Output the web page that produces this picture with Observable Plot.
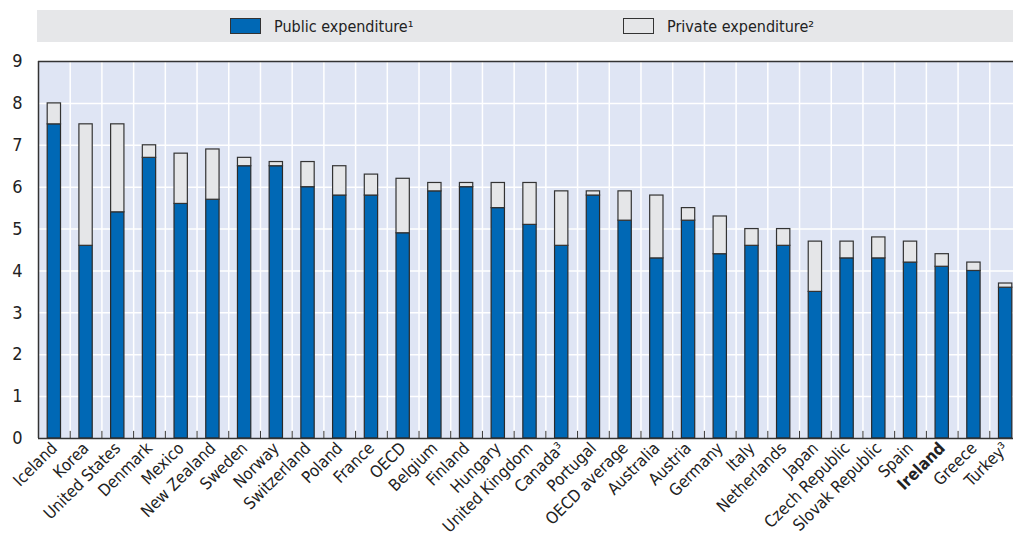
<!DOCTYPE html>
<html>
<head>
<meta charset="utf-8">
<script src="https://cdn.jsdelivr.net/npm/d3@7"></script>
<script src="https://cdn.jsdelivr.net/npm/@observablehq/plot@0.6"></script>
<style>
  html, body { margin: 0; padding: 0; background: #fff; overflow: hidden; width: 1013px; height: 544px; }
  body { font-family: "DejaVu Sans Condensed", "DejaVu Sans", sans-serif; font-stretch: condensed; }
  #legend { position: relative; height: 42px; }
  #legend .band { position: absolute; left: 37px; top: 10px; width: 990px; height: 32px; background: #e6e7e9; }
  #legend .item { position: absolute; top: 10px; height: 32px; display: flex; align-items: center; font-size: 16px; color: #222; }
  #legend .sw { width: 31px; height: 16px; border: 1px solid #333; margin-right: 13px; box-sizing: border-box; }
  #chart { width: 1013px; overflow: hidden; }
  #chart svg { display: block; overflow: hidden; max-width: none !important; }
  #chart svg text { font-stretch: condensed; }
</style>
</head>
<body>
<div id="legend"></div>
<div id="chart"></div>
<script>
const countries = ["Iceland","Korea","United States","Denmark","Mexico","New Zealand","Sweden","Norway","Switzerland","Poland","France","OECD","Belgium","Finland","Hungary","United Kingdom","Canada³","Portugal","OECD average","Australia","Austria","Germany","Italy","Netherlands","Japan","Czech Republic","Slovak Republic","Spain","Ireland","Greece","Turkey³"];
const publicExp  = [7.5,4.6,5.4,6.7,5.6,5.7,6.5,6.5,6.0,5.8,5.8,4.9,5.9,6.0,5.5,5.1,4.6,5.8,5.2,4.3,5.2,4.4,4.6,4.6,3.5,4.3,4.3,4.2,4.1,4.0,3.6];
const privateExp = [0.5,2.9,2.1,0.3,1.2,1.2,0.2,0.1,0.6,0.7,0.5,1.3,0.2,0.1,0.6,1.0,1.3,0.1,0.7,1.5,0.3,0.9,0.4,0.4,1.2,0.4,0.5,0.5,0.3,0.2,0.1];
const seriesNames = ["Public expenditure¹", "Private expenditure²"];
const seriesColors = ["#0068b5", "#e5e6e8"];
const yTicks = [0,1,2,3,4,5,6,7,8,9];
const highlight = "Ireland";

const rows = countries.map((c, i) => ({country: c, pub: publicExp[i], priv: privateExp[i]}));

// legend
const legend = document.getElementById("legend");
legend.innerHTML = `<div class="band"></div>
  <div class="item" style="left:230px"><div class="sw" style="background:${seriesColors[0]}"></div>${seriesNames[0]}</div>
  <div class="item" style="left:623px"><div class="sw" style="background:${seriesColors[1]}"></div>${seriesNames[1]}</div>`;

const W = 1022, H = 502, mL = 38, mR = 1, mT = 19, mB = 106;
const step = (W - mL - mR) / countries.length;
const font = '"DejaVu Sans Condensed", "DejaVu Sans", sans-serif';

const chart = Plot.plot({
  width: W, height: H,
  marginLeft: mL, marginRight: mR, marginTop: mT, marginBottom: mB,
  style: {fontFamily: font, background: "transparent", overflow: "hidden", maxWidth: "none"},
  x: {domain: countries, paddingInner: 0.58, paddingOuter: 0.29, round: false, axis: null, label: null},
  y: {domain: [0, 9], axis: null, label: null},
  marks: [
    Plot.frame({fill: "#dfe5f4", stroke: null}),
    Plot.gridY(yTicks.slice(1, -1), {stroke: "#ffffff", strokeOpacity: 1, strokeWidth: 1.5}),
    Plot.ruleX(countries, {x: d => d, dx: step / 2, stroke: "#ffffff", strokeWidth: 1.5}),
    Plot.ruleX(countries, {x: d => d, dx: step / 2, y1: 0, y2: 0.17, stroke: "#333", strokeWidth: 1}),
    Plot.barY(rows, {x: "country", y1: 0, y2: "pub", fill: seriesColors[0], stroke: "#2a2a2a", strokeWidth: 1.2}),
    Plot.barY(rows, {x: "country", y1: "pub", y2: d => d.pub + d.priv, fill: seriesColors[1], stroke: "#333", strokeWidth: 1.2}),
    Plot.ruleY([0], {stroke: "#333", strokeWidth: 1.5}),
    Plot.ruleY([9], {stroke: "#333", strokeWidth: 1.5}),
    Plot.ruleX([countries[0]], {dx: -step / 2, y1: 0, y2: 9, stroke: "#333", strokeWidth: 1.5}),
    Plot.axisY(yTicks, {tickSize: 0, tickPadding: 16, fontSize: 18, fill: "#222", label: null}),
    Plot.axisX(countries.filter(c => c !== highlight), {tickSize: 0, tickPadding: 7, tickRotate: -45, fontSize: 16.5, fill: "#222", label: null}),
    Plot.axisX([highlight], {tickSize: 0, tickPadding: 7, tickRotate: -45, fontSize: 16.5, fontWeight: "bold", fill: "#222", label: null})
  ]
});
document.getElementById("chart").appendChild(chart);
</script>
</body>
</html>
